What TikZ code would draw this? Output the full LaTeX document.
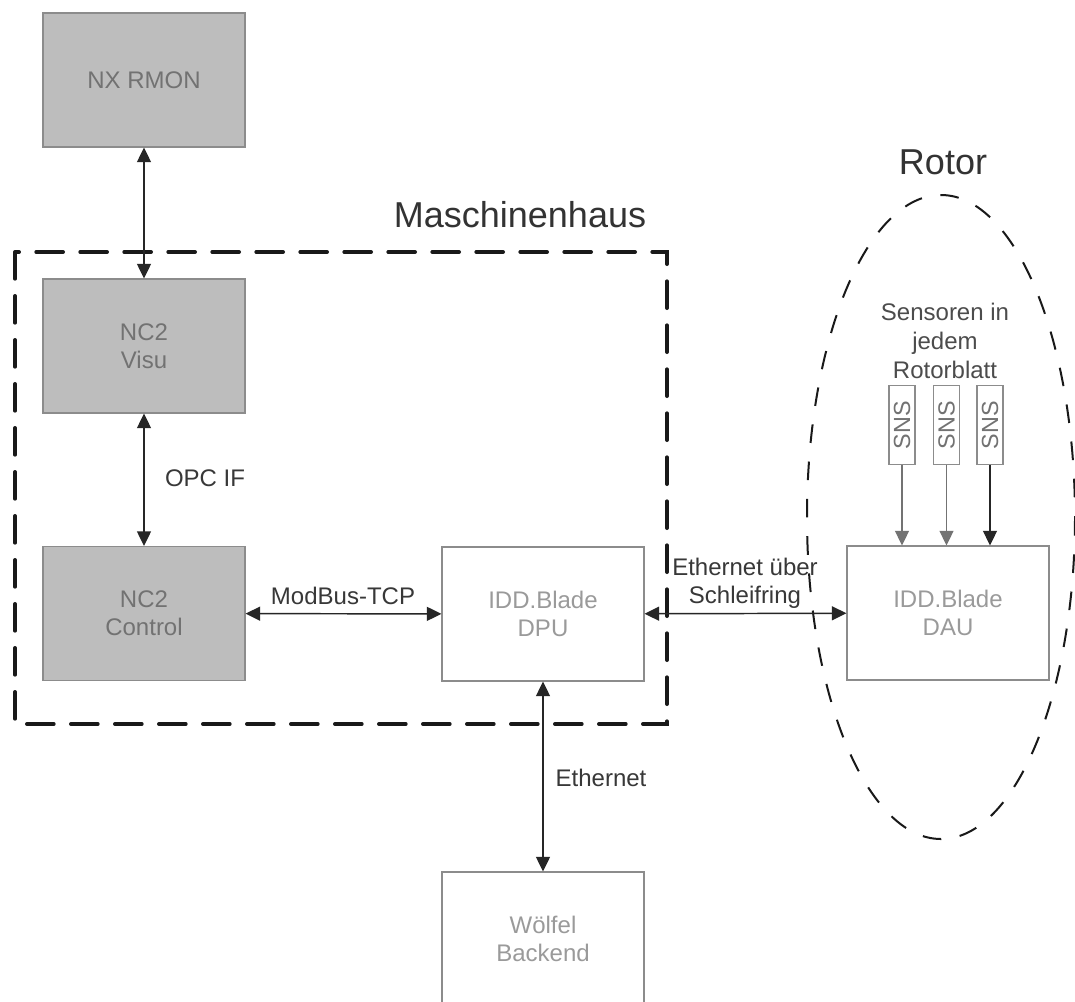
\documentclass[tikz,border=0pt]{standalone}
\usepackage{fontspec}
\setmainfont{Liberation Sans}
\usetikzlibrary{arrows.meta}
\definecolor{boxgray}{HTML}{BDBDBD}
\definecolor{boxedge}{HTML}{8C8C8C}
\definecolor{graytext}{HTML}{727272}
\definecolor{lighttext}{HTML}{9A9A9A}
\definecolor{linecol}{HTML}{262626}
\begin{document}
\begin{tikzpicture}[x=0.75pt,y=-0.75pt,
  basebox/.style={draw=boxedge, line width=0.8pt, minimum width=151.5pt, minimum height=100.5pt,
    inner sep=0pt, align=center, font=\fontsize{18}{21}\selectfont},
  graybox/.style={basebox, fill=boxgray, text=graytext},
  whitebox/.style={basebox, fill=white, text=lighttext},
  snsbox/.style={draw=boxedge, line width=0.8pt, fill=white, text=graytext, rotate=90,
    minimum width=59pt, minimum height=19.5pt, inner sep=0pt, font=\fontsize{17.5}{18}\selectfont},
  conn/.style={draw=linecol, line width=1.1pt,
    {Triangle[length=11pt,width=10.5pt]}-{Triangle[length=11pt,width=10.5pt]}},
  snsconn/.style={line width=0.9pt, -{Triangle[length=11pt,width=10.5pt]}},
  lbl/.style={text=black!78, align=center, inner sep=0pt, font=\fontsize{18}{21}\selectfont},
  biglbl/.style={text=black!80, inner sep=0pt, font=\fontsize{27}{30}\selectfont}
]
\useasboundingbox[fill=white] (0,0) rectangle (1075,1001);

% regions
\draw[line width=3pt, dash pattern=on 20pt off 13pt, line cap=round, draw=black!90]
  (15,252) rectangle (667,724);
\draw[line width=1.5pt, dash pattern=on 14pt off 14pt, draw=black!90]
  (941,517) ellipse [x radius=134, y radius=322];
\node[biglbl] (lmh) at (520,215) {Maschinenhaus};
\node[biglbl] (lrot) at (943,162) {Rotor};

% boxes
\node[graybox] (nx) at (144,80) {NX RMON};
\node[graybox] (visu) at (144,346) {NC2\\Visu};
\node[graybox] (ctrl) at (144,613.5) {NC2\\Control};
\node[whitebox] (dpu) at (543,614) {IDD.Blade\\DPU};
\node[whitebox] (dau) at (948,613) {IDD.Blade\\DAU};
\node[whitebox] (wolf) at (543,939) {Wölfel\\Backend};

\node[snsbox] (s1) at (902,425) {SNS};
\node[snsbox] (s2) at (946.5,425) {SNS};
\node[snsbox] (s3) at (990,425) {SNS};
\node[lbl, text=black!70, font=\fontsize{18}{21.5}\selectfont] (lsens) at (945,341) {Sensoren in\\jedem\\Rotorblatt};

% connectors
\draw[conn] (nx) -- (visu);
\draw[conn] (visu) -- (ctrl);
\draw[conn] (ctrl) -- (dpu);
\draw[conn] (dpu) -- (dau);
\draw[conn] (dpu) -- (wolf);
\draw[snsconn, draw=black!55] (s1.west) -- (s1.west |- dau.north);
\draw[snsconn, draw=black!55] (s2.west) -- (s2.west |- dau.north);
\draw[snsconn, draw=linecol] (s3.west) -- (s3.west |- dau.north);

% labels
\node[lbl] (lopc) at (205,478) {OPC IF};
\node[lbl] (lmod) at (343,596) {ModBus-TCP};
\node[lbl] (leth1) at (745,583) {Ethernet über\\Schleifring};
\node[lbl] (leth2) at (601,778) {Ethernet};
\end{tikzpicture}
\end{document}
